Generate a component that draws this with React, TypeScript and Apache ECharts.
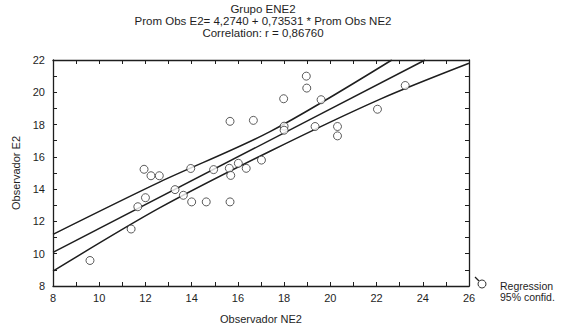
import React, { useEffect, useRef } from "react";
import * as echarts from "echarts";

const titleLines = [
  "Grupo ENE2",
  "Prom Obs E2= 4,2740 + 0,73531 * Prom Obs NE2",
  "Correlation: r = 0,86760",
];
const xName = "Observador NE2";
const yName = "Observador E2";
const legendLines = ["Regression", "95% confid."];

// Observed points [Observador NE2, Observador E2]
const points: number[][] = [
  [9.6, 9.58],
  [11.38, 11.53],
  [11.67, 12.91],
  [12.0, 13.47],
  [11.94, 15.23],
  [12.24, 14.83],
  [12.6, 14.83],
  [13.28, 13.97],
  [13.64, 13.62],
  [14.0, 13.21],
  [13.96, 15.28],
  [14.63, 13.21],
  [14.95, 15.21],
  [15.66, 13.21],
  [15.63, 15.29],
  [15.69, 14.85],
  [16.02, 15.6],
  [16.36, 15.29],
  [17.02, 15.8],
  [15.66, 18.2],
  [16.67, 18.26],
  [17.98, 19.6],
  [18.0, 17.9],
  [18.0, 17.65],
  [18.96, 21.0],
  [18.98, 20.26],
  [19.6, 19.54],
  [19.34, 17.88],
  [20.31, 17.88],
  [20.31, 17.3],
  [22.04, 18.95],
  [23.24, 20.42],
];

// Lines
const regressionLine: number[][] = [
  [8, 10.08],
  [24.1, 22],
];
const upperBand: number[][] = [
  [8, 11.2],
  [12.63, 14.45],
  [17.39, 17.56],
  [22.66, 22],
];
const lowerBand: number[][] = [
  [8, 8.92],
  [12.63, 12.85],
  [17.39, 16.35],
  [22.16, 19.58],
  [26, 21.8],
];

const FONT = "Liberation Sans";
const INK = "#1e1e1e";

export default function App() {
  const ref = useRef<HTMLDivElement>(null);
  useEffect(() => {
    if (!ref.current) return;
    const chart = echarts.init(ref.current, null, { renderer: "svg" });
    const axisCommon = {
      axisLine: { show: true, onZero: false, lineStyle: { color: INK, width: 1.3 } },
      axisTick: { show: true, inside: true, length: 4, lineStyle: { color: INK, width: 1 } },
      minorTick: { show: true, splitNumber: 2, length: 4, lineStyle: { color: INK, width: 1 } },
      splitLine: { show: false },
      minorSplitLine: { show: false },
    };
    const lineStyle = { color: INK, width: 1.5 };
    chart.setOption({
      animation: false,
      backgroundColor: "#ffffff",
      textStyle: { fontFamily: FONT },
      title: {
        text: titleLines.join("\n"),
        left: 258,
        top: -2,
        textAlign: "center",
        textStyle: { fontFamily: FONT, fontSize: 11.5, fontWeight: "normal", color: INK, lineHeight: 12 },
      },
      grid: { left: 53, right: 98, top: 60, bottom: 38 },
      xAxis: [
        {
          type: "value",
          min: 8,
          max: 26,
          interval: 2,
          name: xName,
          nameLocation: "middle",
          nameGap: 27,
          nameTextStyle: { fontFamily: FONT, fontSize: 11, color: INK },
          axisLabel: { fontFamily: FONT, fontSize: 11, color: INK, margin: 6 },
          ...axisCommon,
        },
        {
          type: "value",
          position: "top",
          min: 8,
          max: 26,
          interval: 2,
          axisLabel: { show: false },
          ...axisCommon,
        },
      ],
      yAxis: [
        {
          type: "value",
          min: 8,
          max: 22,
          interval: 2,
          name: yName,
          nameLocation: "middle",
          nameGap: 31,
          nameTextStyle: { fontFamily: FONT, fontSize: 11, color: INK },
          axisLabel: { fontFamily: FONT, fontSize: 11, color: INK, margin: 8 },
          ...axisCommon,
        },
        {
          type: "value",
          position: "right",
          min: 8,
          max: 22,
          interval: 2,
          axisLabel: { show: false },
          ...axisCommon,
        },
      ],
      series: [
        {
          type: "scatter",
          data: points,
          symbol: "circle",
          symbolSize: 8,
          itemStyle: { color: "#ffffff", borderColor: "#333", borderWidth: 1 },
          z: 3,
        },
        {
          type: "line",
          data: regressionLine,
          showSymbol: false,
          lineStyle,
          clip: true,
          z: 2,
        },
        {
          type: "line",
          data: upperBand,
          showSymbol: false,
          smooth: 0.3,
          lineStyle,
          clip: true,
          z: 2,
        },
        {
          type: "line",
          data: lowerBand,
          showSymbol: false,
          smooth: 0.3,
          lineStyle,
          clip: true,
          z: 2,
        },
      ],
      graphic: [
        {
          type: "line",
          shape: { x1: 475, y1: 277, x2: 479, y2: 281 },
          style: { stroke: INK, lineWidth: 1.2 },
        },
        {
          type: "circle",
          shape: { cx: 482, cy: 284, r: 4 },
          style: { fill: "#fff", stroke: "#333", lineWidth: 1 },
        },
        {
          type: "text",
          left: 500,
          top: 280,
          style: {
            text: legendLines.join("\n"),
            fontFamily: FONT,
            fontSize: 10.5,
            lineHeight: 11,
            fill: INK,
          },
        },
      ],
    });
    return () => chart.dispose();
  }, []);
  return (
    <div
      ref={ref}
      style={{ position: "fixed", left: 0, top: 0, width: 567, height: 329 }}
    />
  );
}
